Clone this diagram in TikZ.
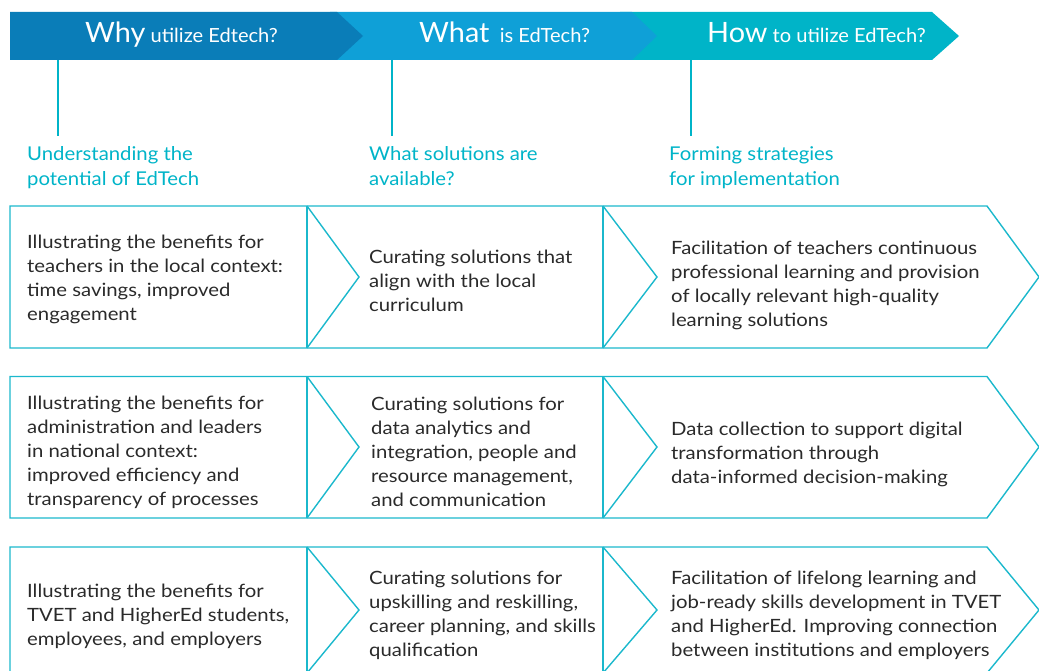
\documentclass[tikz,border=0pt]{standalone}
\usepackage{fontspec}
\setmainfont{Lato}
\newfontfamily\cellfont[FakeStretch=1.11]{Lato}
\newfontfamily\subfont[FakeStretch=1.07]{Lato}
\newfontfamily\hdrfont[FakeStretch=1.03]{Lato}
\definecolor{cA}{HTML}{0A7DB8}
\definecolor{cB}{HTML}{0FA0D7}
\definecolor{cC}{HTML}{00B4C8}
\definecolor{lineC}{HTML}{1BB8CC}
\definecolor{txt}{HTML}{2A2A2A}
\tikzset{
  hdrtext/.style={anchor=base west, inner sep=0pt, text=white, font=\hdrfont\fontsize{19.5}{22}\selectfont},
  subhead/.style={anchor=north west, inner sep=0pt, align=left, text=cC, font=\subfont\fontsize{19}{25.5}\selectfont},
  cell/.style={anchor=west, inner sep=0pt, align=left, text=txt, font=\cellfont\fontsize{18.3}{24}\selectfont},
  vline/.style={draw=cC, line width=2pt},
  frame/.style={draw=lineC, line width=1.4pt, line join=miter},
}
\begin{document}
\begin{tikzpicture}[x=1pt,y=-1pt]
\useasboundingbox (0,0) rectangle (1039,671);
% header arrows
\fill[cC] (620,12) -- (932,12) -- (959,36) -- (932,60) -- (620,60) -- cycle;
\fill[cB] (330,12) -- (632,12) -- (657,36) -- (632,60) -- (330,60) -- cycle;
\fill[cA] (10,12) -- (337,12) -- (363,36) -- (337,60) -- (10,60) -- cycle;
\node[hdrtext] (why) at (85,43) {{\fontsize{28}{30}\selectfont Why} utilize Edtech?};
\node[hdrtext] (what) at (419,43) {{\fontsize{28}{30}\selectfont What} \ is EdTech?};
\node[hdrtext] (how) at (707,43) {{\fontsize{28}{30}\selectfont How} to utilize EdTech?};
% vertical connectors
\coordinate (a1) at (58,60); \coordinate (b1) at (58,136);
\coordinate (a2) at (392,60); \coordinate (b2) at (392,136);
\coordinate (a3) at (691,60); \coordinate (b3) at (691,136);
\draw[vline] (a1) -- (b1);
\draw[vline] (a2) -- (b2);
\draw[vline] (a3) -- (b3);
% subheadings
\node[subhead] (s1) at (27,146) {Understanding the\\potential of EdTech};
\node[subhead] (s2) at (369,146) {What solutions are\\available?};
\node[subhead] (s3) at (669,146) {Forming strategies\\for implementation};
% rows
\foreach \t/\b/\m in {206/348/277, 376.5/518/447, 547/673/610}{
  \draw[frame] (987,\t) -- (10,\t) -- (10,\b) -- (987,\b) -- (1039,\m) -- cycle;
  \draw[frame] (307,\t) -- (307,\b);
  \draw[frame] (307,\t) -- (359,\m) -- (307,\b);
  \draw[frame] (603,\t) -- (603,\b);
  \draw[frame] (603,\t) -- (657,\m) -- (603,\b);
}
% row 1
\node[cell] (r1c1) at (27,279) {Illustrating the benefits for\\teachers in the local context:\\time savings, improved\\engagement};
\node[cell] (r1c2) at (369,281) {Curating solutions that\\align with the local\\curriculum};
\node[cell] (r1c3) at (671,285) {Facilitation of teachers continuous\\professional learning and provision\\of locally relevant high-quality\\learning solutions};
% row 2
\node[cell] (r2c1) at (27,452) {Illustrating the benefits for\\administration and leaders\\in national context:\\improved efficiency and\\transparency of processes};
\node[cell] (r2c2) at (371,452) {Curating solutions for\\data analytics and\\integration, people and\\resource management,\\and communication};
\node[cell] (r2c3) at (671,454) {Data collection to support digital\\transformation through\\data-informed decision-making};
% row 3
\node[cell] (r3c1) at (27,616) {Illustrating the benefits for\\TVET and HigherEd students,\\employees, and employers};
\node[cell] (r3c2) at (369,615) {Curating solutions for\\upskilling and reskilling,\\career planning, and skills\\qualification};
\node[cell] (r3c3) at (671,615) {Facilitation of lifelong learning and\\job-ready skills development in TVET\\and HigherEd. Improving connection\\between institutions and employers};
\end{tikzpicture}
\end{document}
